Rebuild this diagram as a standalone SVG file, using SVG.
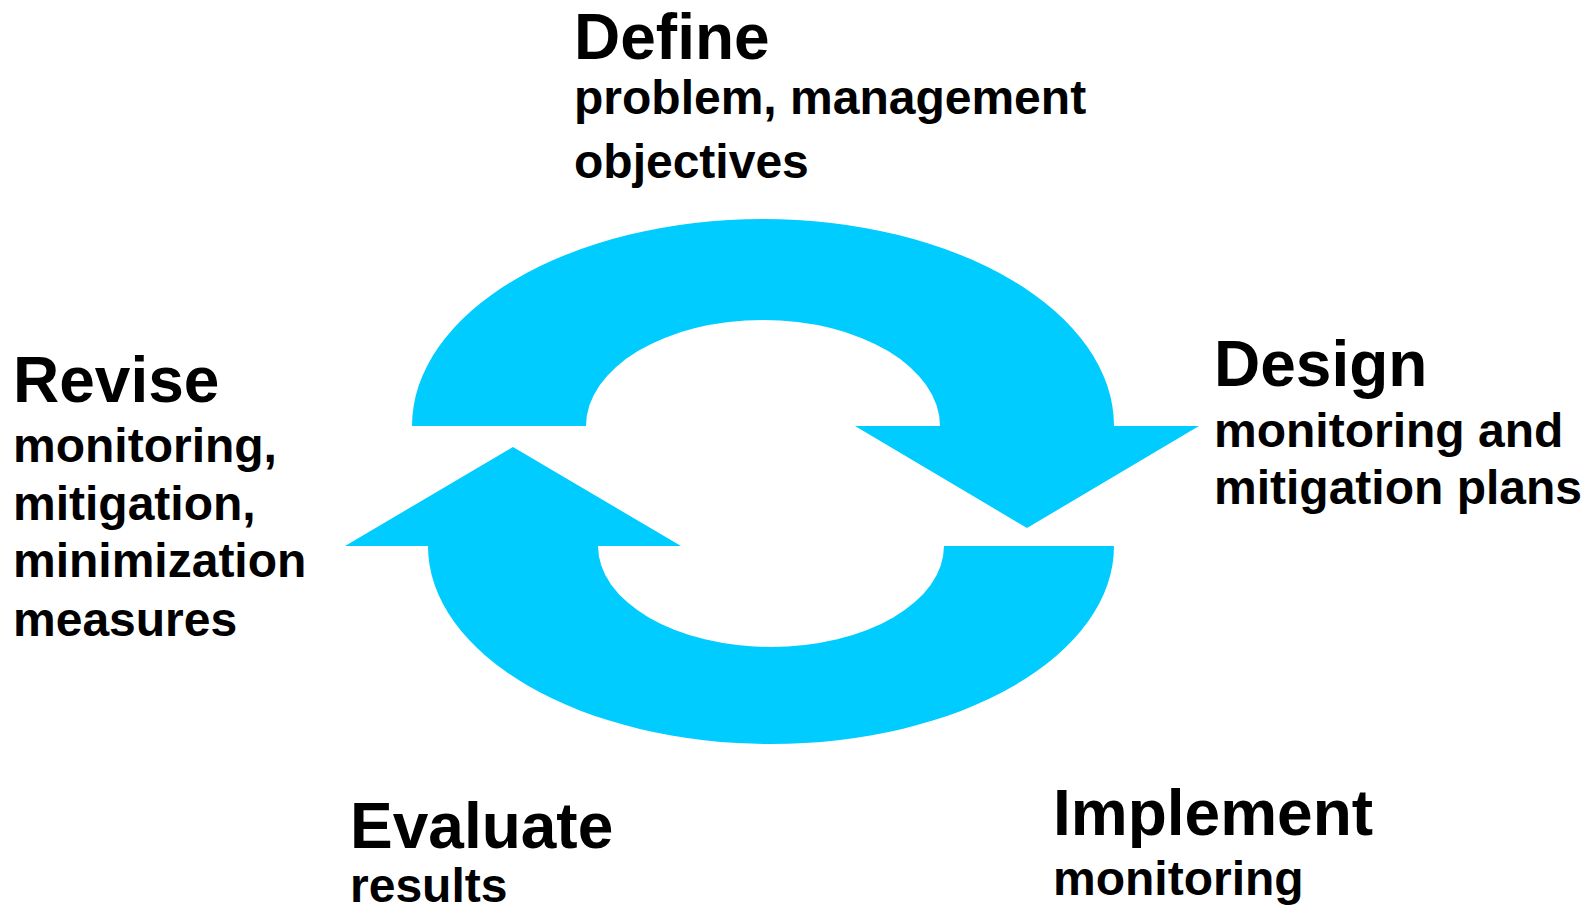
<svg xmlns="http://www.w3.org/2000/svg" width="1591" height="913" viewBox="0 0 1591 913">
  <style>
    text { font-family: "Liberation Sans", Arial, sans-serif; font-weight: bold; fill: #000000; }
    .title { font-size: 64px; }
    .body { font-size: 48px; }
    .cycle { fill: #00CCFF; stroke: none; }
  </style>
  <rect width="1591" height="913" fill="#FFFFFF"/>

  <!-- curved cycle arrows -->
  <g id="connectors">
    <path class="cycle" d="M 412 426 A 351 207 0 0 1 1114 426 L 1199 426 L 1027 528 L 855 426 L 940 426 A 177 106 0 0 0 586 426 Z"/>
    <path class="cycle" d="M 1114 546 A 343 198 0 0 1 428 546 L 345 546 L 513 447 L 681 546 L 598 546 A 173 101 0 0 0 944 546 Z"/>
  </g>

  <g id="define">
    <text class="title" x="574" y="59">Define</text>
    <text class="body" x="574" y="114">problem, management</text>
    <text class="body" x="574" y="178">objectives</text>
  </g>

  <g id="design">
    <text class="title" x="1214" y="386">Design</text>
    <text class="body" x="1214" y="447">monitoring and</text>
    <text class="body" x="1214" y="504">mitigation plans</text>
  </g>

  <g id="implement">
    <text class="title" x="1053" y="835">Implement</text>
    <text class="body" x="1053" y="895">monitoring</text>
  </g>

  <g id="evaluate">
    <text class="title" x="350" y="848">Evaluate</text>
    <text class="body" x="350" y="902">results</text>
  </g>

  <g id="revise">
    <text class="title" x="13" y="402">Revise</text>
    <text class="body" x="13" y="462">monitoring,</text>
    <text class="body" x="13" y="520">mitigation,</text>
    <text class="body" x="13" y="577">minimization</text>
    <text class="body" x="13" y="636">measures</text>
  </g>
</svg>
